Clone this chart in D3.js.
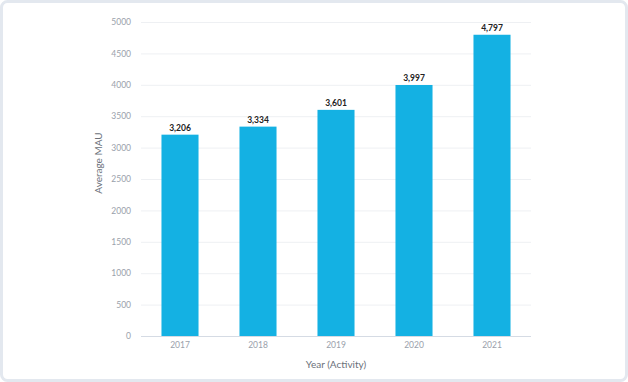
<!DOCTYPE html>
<html><head><meta charset="utf-8">
<script src="https://cdn.jsdelivr.net/npm/d3@7"></script>
<style>body{margin:0;background:#fff;}svg{display:block;font-family:Lato,"Open Sans",sans-serif;}</style>
</head><body>
<svg id="c" width="628" height="382"></svg>
<script>
const categories = ["2017","2018","2019","2020","2021"];
const values = [3206,3334,3601,3997,4797];
const yTicks = [0,500,1000,1500,2000,2500,3000,3500,4000,4500,5000];

const svg = d3.select("#c");
svg.append("rect").attr("x",1.5).attr("y",1.5).attr("width",625).attr("height",379)
  .attr("rx",6).attr("fill","#fff").attr("stroke","#e3e8ef").attr("stroke-width",3);

const m = {l:141, r:531, t:22, b:336};
const x = d3.scaleBand().domain(categories).range([m.l,m.r]).paddingInner(0.525).paddingOuter(0.2625);
const y = d3.scaleLinear().domain([0,5000]).range([m.b,m.t]);

const yAxis = svg.append("g").attr("transform",`translate(${m.l},0)`)
  .call(d3.axisLeft(y).tickValues(yTicks).tickSize(-(m.r-m.l)).tickPadding(10).tickFormat(d3.format("d")));
yAxis.select(".domain").remove();
yAxis.selectAll(".tick line").attr("stroke",d=>d===0?"#d5dbe4":"#eef0f3").attr("stroke-width",1);
yAxis.selectAll(".tick text").attr("fill","#9aa1ab").style("font-size","8.5px").style("font-family","Lato");

svg.append("g").selectAll("rect").data(categories).join("rect")
  .attr("x",d=>x(d)).attr("width",x.bandwidth())
  .attr("y",(d,i)=>y(values[i])).attr("height",(d,i)=>y(0)-y(values[i]))
  .attr("fill","#14b1e3");

svg.append("g").selectAll("text").data(categories).join("text")
  .attr("x",d=>x(d)+x.bandwidth()/2).attr("y",(d,i)=>y(values[i])-3.5)
  .attr("text-anchor","middle").attr("fill","#222").style("font-size","8.5px").style("font-weight","bold")
  .text((d,i)=>d3.format(",")(values[i]));

const xAxis = svg.append("g").attr("transform",`translate(0,${m.b})`)
  .call(d3.axisBottom(x).tickSize(0).tickPadding(6));
xAxis.select(".domain").remove();
xAxis.selectAll(".tick text").attr("fill","#9aa1ab").style("font-size","8.5px").style("font-family","Lato");

svg.append("text").attr("x",336).attr("y",368).attr("text-anchor","middle")
  .attr("fill","#6b717a").style("font-size","10px").text("Year (Activity)");
svg.append("text").attr("transform","translate(102,163) rotate(-90)").attr("text-anchor","middle")
  .attr("fill","#6b717a").style("font-size","10px").text("Average MAU");
</script>
</body></html>
